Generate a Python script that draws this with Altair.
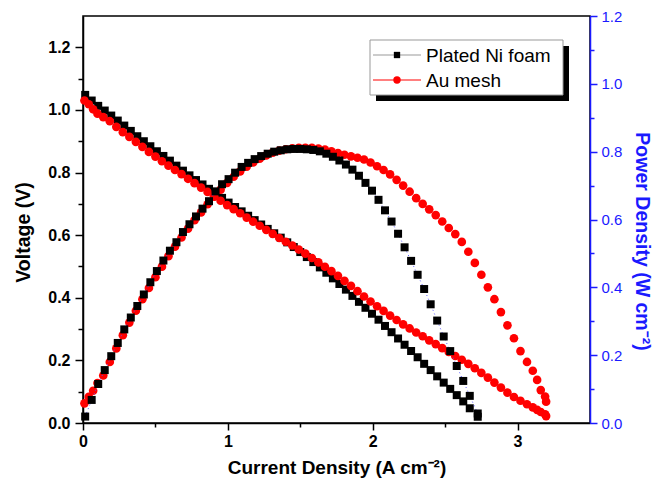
import altair as alt
import pandas as pd

# ---------------- data ----------------
ni_current = [0.015, 0.06, 0.105, 0.15, 0.195, 0.24, 0.285, 0.33, 0.375, 0.42,
              0.465, 0.51, 0.555, 0.60, 0.645, 0.69, 0.735, 0.78, 0.825, 0.87,
              0.915, 0.96, 1.005, 1.05, 1.095, 1.14, 1.185, 1.23, 1.275, 1.32,
              1.365, 1.41, 1.455, 1.50, 1.545, 1.59, 1.635, 1.68, 1.725, 1.77,
              1.815, 1.86, 1.905, 1.95, 1.995, 2.04, 2.085, 2.13, 2.175, 2.22,
              2.265, 2.31, 2.355, 2.40, 2.445, 2.49, 2.535, 2.58, 2.625, 2.67, 2.725]
ni_voltage = [1.048, 1.030, 1.013, 0.998, 0.982, 0.966, 0.950, 0.933, 0.916, 0.900,
              0.884, 0.868, 0.853, 0.838, 0.822, 0.806, 0.791, 0.776, 0.762, 0.748,
              0.734, 0.719, 0.704, 0.690, 0.676, 0.662, 0.648, 0.634, 0.620, 0.606,
              0.592, 0.577, 0.562, 0.546, 0.530, 0.514, 0.497, 0.480, 0.462, 0.444,
              0.426, 0.406, 0.387, 0.368, 0.349, 0.330, 0.310, 0.290, 0.270, 0.250,
              0.230, 0.210, 0.189, 0.169, 0.149, 0.129, 0.109, 0.089, 0.069, 0.047, 0.020]
ni_power = [0.019, 0.068, 0.115, 0.156, 0.197, 0.236, 0.276, 0.311, 0.345, 0.379,
            0.415, 0.448, 0.479, 0.508, 0.533, 0.563, 0.586, 0.609, 0.632, 0.654,
            0.683, 0.704, 0.719, 0.738, 0.755, 0.767, 0.778, 0.787, 0.794, 0.800,
            0.804, 0.807, 0.808, 0.808, 0.807, 0.805, 0.801, 0.794, 0.785, 0.774,
            0.762, 0.747, 0.729, 0.708, 0.685, 0.658, 0.627, 0.594, 0.558, 0.518,
            0.478, 0.437, 0.395, 0.350, 0.302, 0.255, 0.212, 0.168, 0.124, 0.080, 0.028]

au_current = [0.01, 0.04, 0.07, 0.10, 0.14, 0.185, 0.23, 0.275, 0.32, 0.365,
              0.41, 0.455, 0.50, 0.545, 0.59, 0.635, 0.68, 0.725, 0.77, 0.815,
              0.86, 0.905, 0.95, 0.995, 1.04, 1.085, 1.13, 1.175, 1.22, 1.265,
              1.31, 1.355, 1.40, 1.445, 1.49, 1.535, 1.58, 1.625, 1.67, 1.715,
              1.76, 1.805, 1.85, 1.895, 1.94, 1.985, 2.03, 2.075, 2.12, 2.165,
              2.21, 2.255, 2.30, 2.345, 2.39, 2.435, 2.48, 2.525, 2.57, 2.615,
              2.66, 2.705, 2.75, 2.795, 2.84, 2.885, 2.93, 2.975, 3.02, 3.065,
              3.105, 3.135, 3.16, 3.19, 3.197]
au_voltage = [1.030, 1.018, 1.002, 0.988, 0.977, 0.964, 0.946, 0.929, 0.914, 0.898,
              0.882, 0.866, 0.851, 0.836, 0.822, 0.808, 0.795, 0.780, 0.766, 0.752,
              0.738, 0.724, 0.710, 0.696, 0.683, 0.670, 0.656, 0.643, 0.630, 0.617,
              0.604, 0.591, 0.579, 0.567, 0.554, 0.541, 0.527, 0.513, 0.499, 0.485,
              0.470, 0.454, 0.438, 0.421, 0.404, 0.388, 0.373, 0.358, 0.343, 0.329,
              0.315, 0.302, 0.289, 0.277, 0.264, 0.252, 0.239, 0.227, 0.214, 0.202,
              0.189, 0.175, 0.160, 0.145, 0.129, 0.113, 0.097, 0.083, 0.071, 0.060,
              0.050, 0.042, 0.035, 0.028, 0.022]
au_power = [0.058, 0.077, 0.095, 0.118, 0.140, 0.180, 0.220, 0.259, 0.296, 0.331,
            0.365, 0.398, 0.430, 0.461, 0.492, 0.520, 0.547, 0.573, 0.598, 0.621,
            0.645, 0.667, 0.688, 0.708, 0.726, 0.742, 0.756, 0.768, 0.779, 0.789,
            0.797, 0.803, 0.807, 0.810, 0.811, 0.811, 0.811, 0.809, 0.806, 0.801,
            0.796, 0.791, 0.786, 0.782, 0.777, 0.768, 0.757, 0.746, 0.733, 0.717,
            0.700, 0.682, 0.663, 0.646, 0.630, 0.613, 0.594, 0.575, 0.557, 0.534,
            0.505, 0.472, 0.437, 0.400, 0.365, 0.327, 0.288, 0.250, 0.212, 0.180,
            0.154, 0.127, 0.097, 0.078, 0.063]

x_ticks = [0.0, 0.5, 1.0, 1.5, 2.0, 2.5, 3.0]
yv_ticks = [0.0, 0.1, 0.2, 0.3, 0.4, 0.5, 0.6, 0.7, 0.8, 0.9, 1.0, 1.1, 1.2]
yp_ticks = [0.0, 0.1, 0.2, 0.3, 0.4, 0.5, 0.6, 0.7, 0.8, 0.9, 1.0, 1.1, 1.2]
legend_labels = ["Plated Ni foam", "Au mesh"]

BLUE = "#1a1aff"
FONT = "Liberation Sans"

ni_v = pd.DataFrame({"I": ni_current, "V": ni_voltage})
ni_p = pd.DataFrame({"I": ni_current, "P": ni_power})
au_v = pd.DataFrame({"I": au_current, "V": au_voltage})
au_p = pd.DataFrame({"I": au_current, "P": au_power})

major5 = "abs(datum.value*5 - round(datum.value*5)) < 0.001"
major1 = "abs(datum.value - round(datum.value)) < 0.001"

x_axis = alt.Axis(
    title="Current Density (A cm\u207b\u00b2)", values=x_ticks,
    labelExpr=f"{major1} ? format(datum.value, 'd') : ''",
    tickSize={"condition": {"test": major1, "value": 7}, "value": 4},
    labelFlush=False, labelOverlap=False, labelPadding=3,
    labelFontSize=16, labelFontWeight="bold", titleFontSize=19, titleFontWeight="bold",
    titlePadding=9, domainColor="black", tickColor="black", labelColor="black",
    titleColor="black", domainWidth=1.5, tickWidth=1.5,
)
x_enc = alt.X("I:Q", scale=alt.Scale(domain=[0, 3.5], nice=False, zero=False), axis=x_axis)

yv_axis = alt.Axis(
    title="Voltage (V)", values=yv_ticks, orient="left",
    labelExpr=f"{major5} ? format(datum.value, '.1f') : ''",
    tickSize={"condition": {"test": major5, "value": 8}, "value": 5},
    labelOverlap=False, labelFlush=False, labelPadding=5,
    labelFontSize=16, labelFontWeight="bold", titleFontSize=19.5, titleFontWeight="bold",
    titlePadding=14, titleY=216, domainColor="black", tickColor="black", labelColor="black",
    titleColor="black", domainWidth=1.5, tickWidth=1.5,
)
yv_scale = alt.Scale(domain=[0, 1.3], nice=False, zero=False)

yp_axis = alt.Axis(
    title="Power Density (W cm\u207b\u00b2)", values=yp_ticks, orient="right",
    labelExpr=f"{major5} ? format(datum.value, '.1f') : ''",
    tickSize={"condition": {"test": major5, "value": 7}, "value": 4},
    labelOverlap=False, labelFlush=False, labelPadding=4,
    labelFontSize=15, labelFontWeight="normal", titleFontSize=19.5, titleFontWeight="bold",
    titlePadding=10, titleY=225, domainColor=BLUE, tickColor=BLUE, labelColor=BLUE,
    titleColor=BLUE, domainWidth=1.5, tickWidth=1.5,
)
yp_scale = alt.Scale(domain=[0, 1.2], nice=False, zero=False)

yv = alt.Y("V:Q", scale=yv_scale, axis=yv_axis)
yp = alt.Y("P:Q", scale=yp_scale, axis=yp_axis)

volt = alt.layer(
    alt.Chart(ni_v).mark_point(shape="square", filled=True, color="black", size=64, opacity=1).encode(x=x_enc, y=yv),
    alt.Chart(au_v).mark_point(shape="circle", filled=True, color="#ff0000", size=75, opacity=1).encode(x=x_enc, y=yv),
)

power = alt.layer(
    alt.Chart(au_p).mark_point(shape="circle", filled=True, color="#ff0000", size=75, opacity=1).encode(x=x_enc, y=yp),
    alt.Chart(ni_p).mark_line(color="#5555ff", strokeWidth=1, strokeDash=[1, 3]).encode(x=x_enc, y=yp),
    alt.Chart(ni_p).mark_point(shape="square", filled=True, color="black", size=64, opacity=1).encode(x=x_enc, y=yp),
)

leg1 = pd.DataFrame({"label": [legend_labels[0]]})
leg2 = pd.DataFrame({"label": [legend_labels[1]]})

legend = alt.layer(
    alt.Chart(leg1).mark_rect(color="black").encode(
        x=alt.value(293), x2=alt.value(486), y=alt.value(30), y2=alt.value(85)),
    alt.Chart(leg1).mark_rect(fill="white", stroke="#999999", strokeWidth=1).encode(
        x=alt.value(287), x2=alt.value(480), y=alt.value(24), y2=alt.value(79)),
    alt.Chart(leg1).mark_rule(color="#999999", strokeWidth=1).encode(
        x=alt.value(290), x2=alt.value(338), y=alt.value(39)),
    alt.Chart(leg1).mark_point(shape="square", filled=True, color="black", size=40, opacity=1).encode(
        x=alt.value(314), y=alt.value(39)),
    alt.Chart(leg1).mark_text(align="left", baseline="middle", font=FONT, fontSize=19, color="black").encode(
        x=alt.value(343), y=alt.value(40), text="label:N"),
    alt.Chart(leg2).mark_rule(color="red", strokeWidth=1).encode(
        x=alt.value(290), x2=alt.value(338), y=alt.value(64)),
    alt.Chart(leg2).mark_point(shape="circle", filled=True, color="#ff0000", size=55, opacity=1).encode(
        x=alt.value(314), y=alt.value(64)),
    alt.Chart(leg2).mark_text(align="left", baseline="middle", font=FONT, fontSize=19, color="black").encode(
        x=alt.value(343), y=alt.value(65), text="label:N"),
)

chart = (
    alt.layer(volt, power, legend)
    .resolve_scale(y="independent")
    .properties(
        width=507, height=407,
        autosize=alt.AutoSizeParams(type="none"),
        padding={"left": 83, "top": 16, "right": 82, "bottom": 69},
        background="white",
    )
    .configure_view(stroke="black", strokeWidth=1.5)
    .configure_axis(grid=False, labelFont=FONT, titleFont=FONT)
    .configure_text(font=FONT)
)

chart.save("out.html", embed_options={"renderer": "svg", "actions": False})
